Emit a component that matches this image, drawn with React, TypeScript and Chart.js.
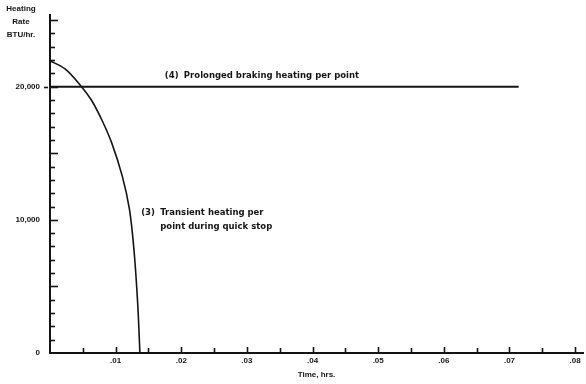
import { useEffect, useRef } from 'react';
import { Chart, registerables } from 'chart.js';

Chart.register(...registerables);

// Curve (3): transient heating per point during quick stop
const transientTime = [0, 0.0023, 0.0048, 0.0063, 0.0079, 0.0094, 0.011, 0.0121, 0.0128, 0.01335, 0.0137];
const transientRate = [21950, 21330, 20000, 19000, 17500, 15780, 13300, 10800, 7700, 3800, 0];

// Line (4): prolonged braking heating per point
const prolongedTime = [0, 0.0714];
const prolongedRate = [20000, 20000];

// Axis labels
const xTickValues = [0.01, 0.02, 0.03, 0.04, 0.05, 0.06, 0.07, 0.08];
const yTickValues = [0, 10000, 20000];
const yTitleLines = ['Heating', 'Rate', 'BTU/hr.'];
const xTitle = 'Time, hrs.';
const label4 = ['(4)', 'Prolonged braking heating per point'];
const label3a = ['(3)', 'Transient heating per'];
const label3b = 'point during quick stop';

const FONT = '"Liberation Sans", Arial, sans-serif';
const FONT2 = '"DejaVu Sans", "Liberation Sans", sans-serif';
const INK = '#141414';

export default function App() {
  const ref = useRef<HTMLCanvasElement | null>(null);

  useEffect(() => {
    if (!ref.current) return;

    const decor = {
      id: 'decor',
      afterDraw(chart: any) {
        const ctx = chart.ctx as CanvasRenderingContext2D;
        const xs = chart.scales.x;
        const ys = chart.scales.y;
        const left = chart.chartArea.left;
        const bottom = chart.chartArea.bottom;
        ctx.save();
        ctx.strokeStyle = INK;
        ctx.lineWidth = 1.6;
        // y ticks every 1000 (inward)
        for (let v = 1000; v <= 25000; v += 1000) {
          const y = Math.round(ys.getPixelForValue(v)) + 0.5;
          const len = v % 5000 === 0 ? 8 : 5;
          ctx.beginPath();
          ctx.moveTo(left, y);
          ctx.lineTo(left + len, y);
          ctx.stroke();
        }
        // outward dash at 20,000
        {
          const y = Math.round(ys.getPixelForValue(20000)) + 0.5;
          ctx.beginPath();
          ctx.moveTo(left - 6, y);
          ctx.lineTo(left - 2, y);
          ctx.stroke();
        }
        // x ticks every 0.005 (upward)
        for (let i = 1; i <= 16; i++) {
          const v = i * 0.005;
          const x = Math.round(xs.getPixelForValue(v)) + 0.5;
          const len = i % 2 === 0 ? 6 : 5;
          ctx.beginPath();
          ctx.moveTo(x, bottom);
          ctx.lineTo(x, bottom - len);
          ctx.stroke();
        }
        // y title
        ctx.fillStyle = INK;
        ctx.font = `bold 8px ${FONT}`;
        ctx.textAlign = 'center';
        ctx.textBaseline = 'middle';
        yTitleLines.forEach((t, i) => ctx.fillText(t, 21, 9 + i * 13));

        // annotations
        ctx.font = `bold 8.5px ${FONT2}`;
        ctx.textAlign = 'left';
        const y4 = ys.getPixelForValue(20000) - 11;
        const x4 = xs.getPixelForValue(0.0175);
        ctx.fillText(label4[0], x4, y4);
        ctx.fillText(label4[1], x4 + 19, y4);

        const y3 = ys.getPixelForValue(10000) - 7;
        const x3 = xs.getPixelForValue(0.0139);
        ctx.fillText(label3a[0], x3, y3);
        ctx.fillText(label3a[1], x3 + 19, y3);
        ctx.fillText(label3b, x3 + 19, y3 + 14);
        ctx.restore();
      },
    };

    const chart = new Chart(ref.current, {
      type: 'line',
      data: {
        datasets: [
          {
            data: prolongedTime.map((t, i) => ({ x: t, y: prolongedRate[i] })),
            borderColor: INK,
            borderWidth: 2,
            pointRadius: 0,
            fill: false,
          },
          {
            data: transientTime.map((t, i) => ({ x: t, y: transientRate[i] })),
            borderColor: INK,
            borderWidth: 1.6,
            pointRadius: 0,
            fill: false,
            tension: 0.35,
          },
        ],
      },
      options: {
        responsive: false,
        animation: false,
        layout: { padding: { left: 0, top: 10, right: 3, bottom: 0 } },
        plugins: { legend: { display: false }, tooltip: { enabled: false } },
        scales: {
          x: {
            type: 'linear',
            min: 0,
            max: 0.0812,
            grid: { display: false, drawTicks: false },
            border: { display: true, color: INK, width: 2 },
            afterFit: (s: any) => { s.height = 31; },
            afterBuildTicks: (s: any) => { s.ticks = xTickValues.map((v) => ({ value: v })); },
            ticks: {
              autoSkip: false,
              maxRotation: 0,
              padding: 3,
              color: INK,
              font: { family: FONT, size: 8, weight: 'bold' },
              callback: (v: any) => '.' + Math.round(Number(v) * 100).toString().padStart(2, '0'),
            },
            title: {
              display: true,
              text: xTitle,
              color: INK,
              font: { family: FONT, size: 8, weight: 'bold' },
              padding: { top: 0, bottom: 4 },
            },
          },
          y: {
            type: 'linear',
            min: 0,
            max: 25400,
            grid: { display: false, drawTicks: false },
            border: { display: true, color: INK, width: 2 },
            afterFit: (s: any) => { s.width = 50; },
            afterBuildTicks: (s: any) => { s.ticks = yTickValues.map((v) => ({ value: v })); },
            ticks: {
              autoSkip: false,
              padding: 10,
              color: INK,
              font: { family: FONT, size: 8, weight: 'bold' },
              callback: (v: any) => Number(v).toLocaleString('en-US'),
            },
          },
        },
      },
      plugins: [decor],
    } as any);

    return () => chart.destroy();
  }, []);

  return (
    <div style={{ position: 'absolute', left: 0, top: 0, width: 586, height: 384, background: '#fff' }}>
      <canvas ref={ref} width={586} height={384} style={{ display: 'block' }} />
    </div>
  );
}
